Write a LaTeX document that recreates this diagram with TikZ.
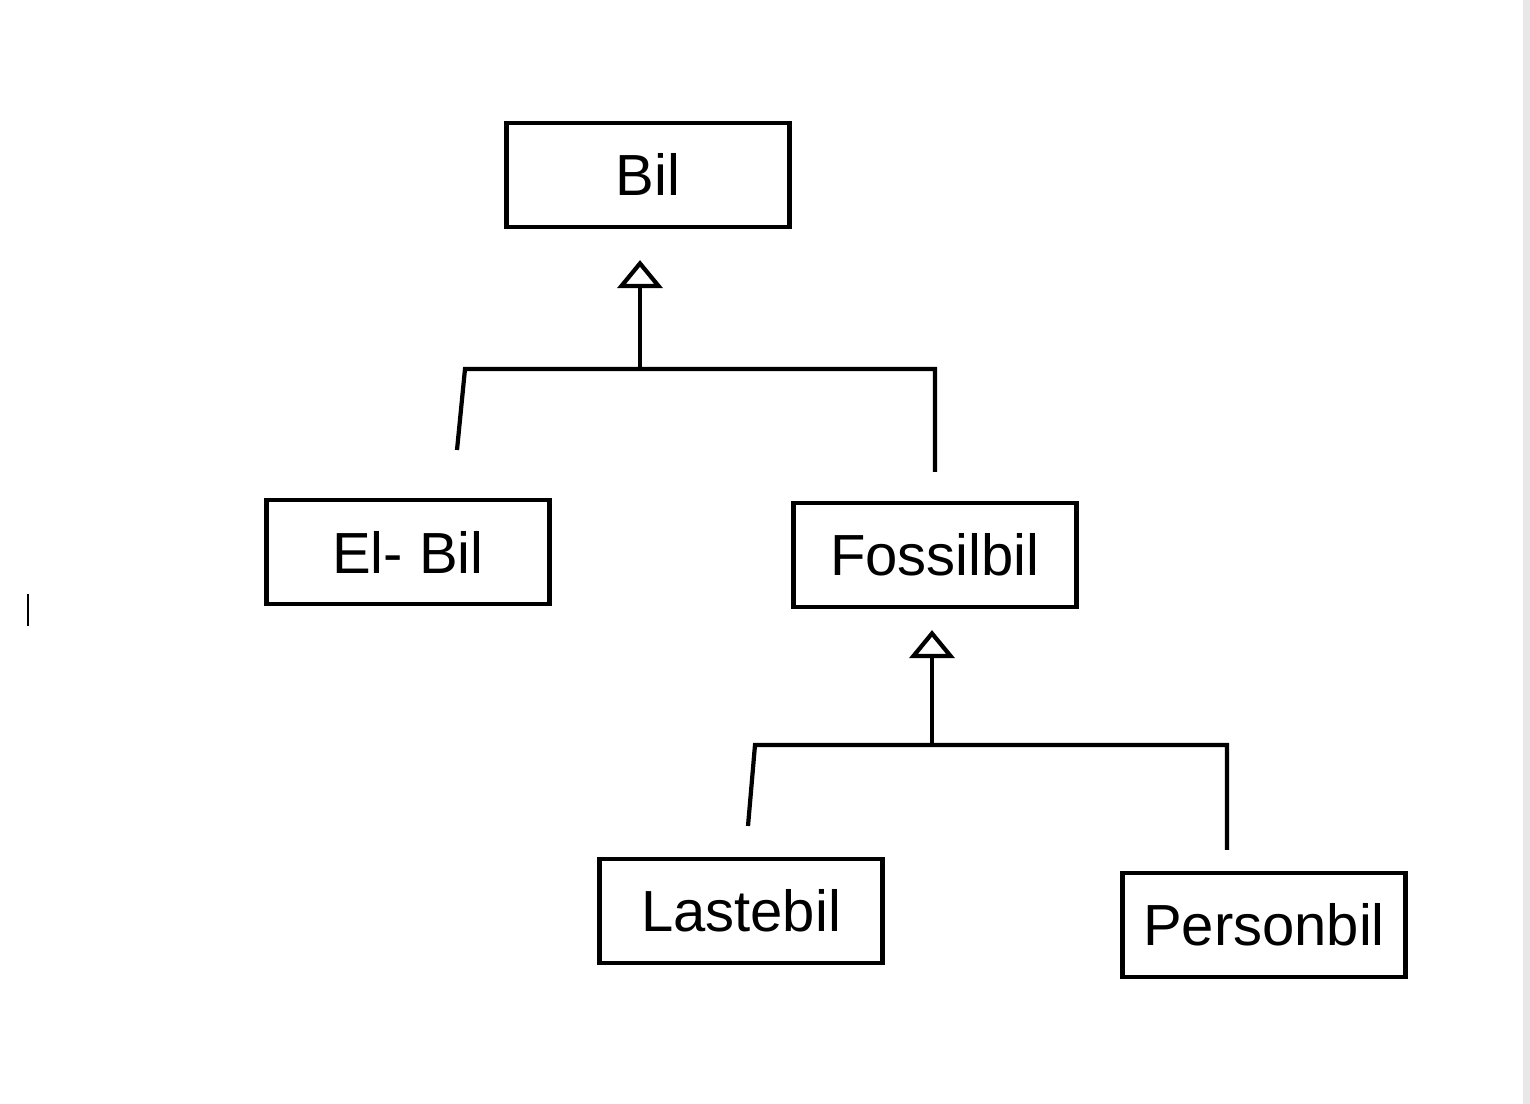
\documentclass[tikz,border=0pt]{standalone}
\usepackage{fontspec}
\setmainfont{Liberation Sans}
\usetikzlibrary{arrows.meta, positioning}
\definecolor{edgegrey}{HTML}{E8E8E8}

\begin{document}
\begin{tikzpicture}
\tikzstyle{classbox} = [rectangle, minimum width=2.83cm, minimum height=1.04cm, text centered, draw=black, line width=1.2pt, font=\fontsize{16.5}{18}\selectfont]
\tikzstyle{line} = [line width=1.2pt]
\tikzstyle{inherit} = [line width=1.2pt, -{Triangle[open, width=0.45cm, length=0.28cm, line width=1.2pt]}, shorten >=0.31cm]

% canvas
\useasboundingbox (0,0) rectangle (15.3,-11.04);
\fill[white] (0,0) rectangle (15.3,-11.04);
\fill[edgegrey] (15.23,0) rectangle (15.3,-11.04);
\draw[line width=0.6pt] (0.28,-5.94) -- (0.28,-6.26);

\node (bil) [classbox] at (6.48,-1.75) {Bil};
\node (elbil) [classbox] at (4.08,-5.52) {El- Bil};
\node (fossil) [classbox] at (9.35,-5.55) {Fossilbil};
\node (laste) [classbox] at (7.41,-9.11) {Lastebil};
\node (person) [classbox] at (12.64,-9.25) {Personbil};

% first level
\coordinate (joinA) at (6.40,-3.69);
\coordinate (barAL) at (4.65,-3.69);
\coordinate (barAR) at (9.35,-3.69);
\coordinate (legAL) at (4.57,-4.50);
\coordinate (legAR) at (9.35,-4.72);
\draw [inherit] (joinA) -- (joinA |- bil.south);
\draw [line] (legAL) -- (barAL) -- (barAR) -- (legAR);

% second level
\coordinate (joinB) at (9.32,-7.45);
\coordinate (barBL) at (7.55,-7.45);
\coordinate (barBR) at (12.27,-7.45);
\coordinate (legBL) at (7.48,-8.26);
\coordinate (legBR) at (12.27,-8.50);
\draw [inherit, shorten >=0.21cm] (joinB) -- (joinB |- fossil.south);
\draw [line] (legBL) -- (barBL) -- (barBR) -- (legBR);

\end{tikzpicture}
\end{document}
